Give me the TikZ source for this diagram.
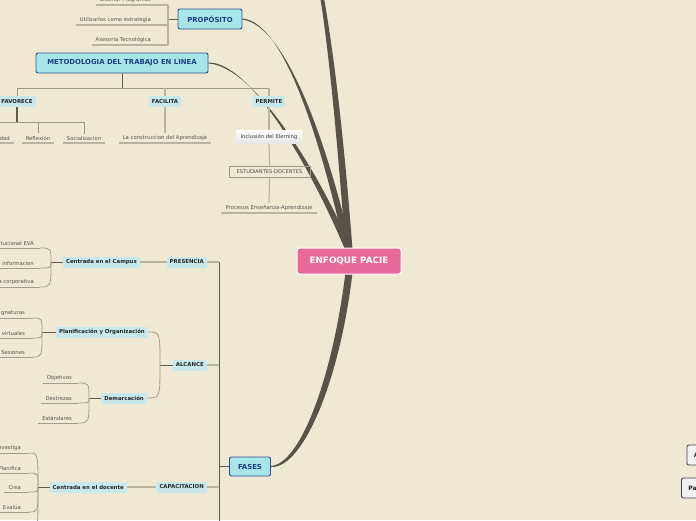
\documentclass[tikz,border=0pt]{standalone}
\usepackage{fontspec}
\setmainfont{DejaVu Sans}
\usetikzlibrary{calc}
\definecolor{bgc}{HTML}{EFE8D3}
\definecolor{dk}{HTML}{575347}
\definecolor{dline}{HTML}{5E5A50}
\definecolor{tan}{HTML}{BAB3A1}
\definecolor{mid}{HTML}{9C9686}
\definecolor{cv}{HTML}{A39D8E}
\definecolor{itxt}{HTML}{55524C}
\definecolor{labfill}{HTML}{C8E9EB}
\definecolor{mainfill}{HTML}{A8E5E8}
\definecolor{mainbd}{HTML}{2D4F91}
\definecolor{maintxt}{HTML}{1F3E86}
\definecolor{pink}{HTML}{E8699A}
\pgfdeclarelayer{bglayer}
\pgfdeclarelayer{lines}
\pgfsetlayers{bglayer,lines,main}
\tikzset{
  rootbox/.style={fill=pink, draw=white, line width=1pt, rounded corners=2.5pt, text=white,
    font=\fontsize{8.8}{10}\selectfont\bfseries, minimum width=104pt, minimum height=26pt, inner sep=0pt},
  mainbox/.style={fill=mainfill, draw=mainbd, line width=0.9pt, rounded corners=2pt, text=maintxt,
    font=\fontsize{6.9}{8}\selectfont\bfseries, minimum height=20pt, inner sep=0pt},
  lab/.style={fill=labfill, text=black!85, font=\fontsize{5.4}{6}\selectfont\bfseries,
    inner xsep=3pt, inner ysep=0pt, minimum height=11pt},
  item/.style={text=itxt, font=\fontsize{5.3}{6}\selectfont, inner xsep=4pt, inner ysep=2.4pt},
  ul/.style={draw=tan, line width=1.3pt},
  tanl/.style={draw=tan, line width=1.2pt},
  midl/.style={draw=mid, line width=0.9pt},
  dl/.style={draw=dline, line width=0.8pt},
  cvl/.style={draw=cv, line width=0.8pt},
  pbox/.style={fill=black!5, draw=black!75, line width=0.8pt, rounded corners=2pt,
    font=\fontsize{6}{7}\selectfont\bfseries, text=black!85, inner xsep=7pt, inner ysep=0pt,
    minimum height=20pt, text width=24pt, align=left}
}
\begin{document}
\begin{tikzpicture}[x=1pt,y=-1pt]
\useasboundingbox (0,0) rectangle (696,520);
\begin{pgfonlayer}{bglayer}
\fill[bgc] (0,0) rectangle (696,520);
\end{pgfonlayer}
\clip (0,0) rectangle (696,520);

% main nodes
\node[rootbox] (root) at (349,261) {ENFOQUE PACIE};
\node[mainbox, minimum width=64pt] (prop) at (210,19) {PROPÓSITO};
\node[mainbox, minimum width=172pt] (met) at (122,63) {METODOLOGIA DEL TRABAJO EN LINEA};
\node[mainbox, minimum width=41pt, minimum height=19pt] (fases) at (250,466.5) {FASES};

% PROPOSITO items
\node[item, anchor=south east] (dis) at (155,5) {Diseñar Programas};
\node[item, anchor=south east] (uti) at (155,25) {Utilizarlos como estrategia};
\node[item, anchor=south east] (ase) at (155,45) {Asesoría Tecnológica};
\coordinate (pb1) at (168,5);
\coordinate (pb2) at (168,25);
\coordinate (pb3) at (168,45);
\coordinate (pbm) at (168,19);

% METODOLOGIA labels
\node[lab] (fav) at (17,101.5) {FAVORECE};
\node[lab] (fac) at (165,101.5) {FACILITA};
\node[lab] (perm) at (269,101.5) {PERMITE};
\coordinate (hy) at (122,88);

\node[item, anchor=south east] (dad) at (14,143) {dad};
\node[item, anchor=south] (refl) at (38,143) {Reflexión};
\node[item, anchor=south] (soc) at (84,143) {Socializacion};
\node[item, anchor=south] (cons) at (165,143) {La construccion del Aprendizaje};
\coordinate (fy) at (17,122);
\coordinate (fleft) at (-5,122);

\node[top color=white, bottom color=black!10, text=black!75, font=\fontsize{5.3}{6}\selectfont,
  minimum width=66pt, minimum height=13pt, inner sep=0pt] (incl) at (269,136.5) {Inclusión del Elerning};
\node[draw=mid, line width=0.6pt, text=black!70, font=\fontsize{5.1}{6}\selectfont,
  minimum width=81pt, minimum height=11pt, inner sep=0pt] (est) at (269.5,171.5) {ESTUDIANTES-DOCENTES};
\node[item, anchor=south] (proc) at (269,213) {Procesos Enseñanza-Aprendizaje};

% FASES branch labels
\node[lab, anchor=east] (pres) at (207,262) {PRESENCIA};
\node[lab, anchor=east] (alc) at (207,365) {ALCANCE};
\node[lab, anchor=east] (cap) at (207,487) {CAPACITACION};
\node[lab, anchor=east] (campus) at (140,262) {Centrada en el Campus};
\node[lab, anchor=east] (plan) at (148,332) {Planificación y Organización};
\node[lab, anchor=east] (dem) at (147,398) {Demarcación};
\node[lab, anchor=east] (doc) at (127,487) {Centrada en el docente};
\coordinate (vx1) at (219,262);
\coordinate (vx2) at (219,365);
\coordinate (vx3) at (219,487);
\coordinate (vxf) at (219,466.5);
\coordinate (vxe) at (219,525);

% Campus items
\coordinate (cP) at (51,262);
\coordinate (cE1) at (40,248);
\coordinate (cE2) at (40,268);
\coordinate (cE3) at (40,287);
\node[item, anchor=south east] (c1) at (38,248) {tucional EVA};
\node[item, anchor=south east] (c2) at (38,268) {informacion};
\node[item, anchor=south east] (c3) at (38,287) {a corporativa};

% Planificacion items
\coordinate (pP) at (42,332);
\coordinate (pE1) at (33,318);
\coordinate (pE2) at (33,338);
\coordinate (pE3) at (33,357);
\node[item, anchor=south east] (p1) at (29,318) {gnaturas};
\node[item, anchor=south east] (p2) at (29,338) {virtuales};
\node[item, anchor=south east] (p3) at (29,357) {Sesiones};

% Alcance bracket
\coordinate (aP) at (160,365);

% Demarcacion items
\coordinate (dP) at (89,398);
\coordinate (dE1) at (78,383);
\coordinate (dE2) at (78,403);
\coordinate (dE3) at (78,423);
\node[item, anchor=south east] (d1) at (76,383) {Objetivos};
\node[item, anchor=south east] (d2) at (76,403) {Destrezas};
\node[item, anchor=south east] (d3) at (76,423) {Estándares};

% Docente items
\coordinate (oP) at (38,487);
\coordinate (oE1) at (29,453);
\coordinate (oE2) at (29,473);
\coordinate (oE3) at (29,492);
\coordinate (oE4) at (29,512);
\coordinate (oE5) at (29,533);
\node[item, anchor=south east] (o1) at (25,453) {nvestiga};
\node[item, anchor=south east] (o2) at (25,473) {Planifica};
\node[item, anchor=south east] (o3) at (25,492) {Crea};
\node[item, anchor=south east] (o4) at (25,512) {Evalúa};

% right partial boxes
\node[pbox, anchor=west] (rb1) at (686.5,455) {A};
\node[pbox, anchor=west] (rb2) at (681,488) {Pa};

\coordinate (topend) at (322,-3);

\begin{pgfonlayer}{lines}
% thick tapered connectors
\fill[dk] ($(root.north)+(-3.5,2)$) .. controls (338,150) and (330,60) .. ($(topend)+(-1.8,0)$)
  -- ($(topend)+(1.8,0)$) .. controls (335,60) and (345,150) .. ($(root.north)+(3.5,2)$) -- cycle;
\fill[dk] ($(prop.east)+(0,-0.5)$) .. controls (289,22) and (327,170) .. ($(root.north)+(-4,2)$)
  -- ($(root.north)+(2.5,2)$) .. controls (334,170) and (291,26) .. ($(prop.east)+(0,0.5)$) -- cycle;
\fill[dk] ($(met.east)+(0,-0.5)$) .. controls (254,62) and (317,182) .. ($(root.north)+(-4,2)$)
  -- ($(root.north)+(2.5,2)$) .. controls (324,182) and (256,66) .. ($(met.east)+(0,0.5)$) -- cycle;
\fill[dk] ($(root.south)+(-3.5,-2)$) .. controls (332,380) and (300,464) .. ($(fases.east)+(0,-0.5)$)
  -- ($(fases.east)+(0,0.5)$) .. controls (303,469) and (340,380) .. ($(root.south)+(3.5,-2)$) -- cycle;

% PROPOSITO bracket
\draw[dl] (prop.west) -- (pbm);
\draw[tanl] (pb1) -- (pb3);
\draw[ul] (dis.south west) -- (pb1);
\draw[ul] (uti.south west) -- (pb2);
\draw[ul] (ase.south west) -- (pb3);

% METODOLOGIA tree
\draw[dl] (met.south) -- (hy);
\draw[midl] (fav.north |- hy) -- (perm.north |- hy);
\draw[midl] (fav.north |- hy) -- (fav.north);
\draw[tanl] (fac.north |- hy) -- (fac.north);
\draw[tanl] (perm.north |- hy) -- (perm.north);
\draw[draw=dline, line width=1.4pt] (fav.south) -- (fy);
\draw[midl] (fleft) -- (soc.north |- fy);
\draw[midl] (refl.north |- fy) -- (refl.north);
\draw[midl] (soc.north |- fy) -- (soc.north);
\draw[ul] (dad.south west) -- (dad.south east);
\draw[ul] (refl.south west) -- (refl.south east);
\draw[ul] (soc.south west) -- (soc.south east);
\draw[tanl] (fac.south) -- (cons.north);
\draw[ul] (cons.south west) -- (cons.south east);
\draw[tanl] (perm.south) -- (incl.north);
\draw[tanl] (incl.south) -- (est.north);
\draw[tanl] (est.south) -- (proc.north);
\draw[ul] (proc.south west) -- (proc.south east);

% FASES tree
\draw[dl] (fases.west) -- (vxf);
\draw[dl] (vx1) -- (vxe);
\draw[tanl] (pres.east) -- (vx1);
\draw[tanl] (alc.east) -- (vx2);
\draw[tanl] (cap.east) -- (vx3);
\draw[tanl] (pres.west) -- (campus.east);
\draw[tanl] (cap.west) -- (doc.east);

% Campus bracket
\draw[dl] (campus.west) -- (cP);
\draw[cvl] (cP) .. controls (cP |- cE1) .. (cE1);
\draw[cvl] (cP) .. controls (cP |- cE2) .. (cE2);
\draw[cvl] (cP) .. controls (cP |- cE3) .. (cE3);
\draw[cvl] (c1.south west) -- (cE1);
\draw[cvl] (c2.south west) -- (cE2);
\draw[cvl] (c3.south west) -- (cE3);

% Alcance bracket
\draw[dl] (alc.west) -- (aP);
\draw[cvl] (aP) .. controls (aP |- plan.east) .. (plan.east);
\draw[cvl] (aP) .. controls (aP |- dem.east) .. (dem.east);

% Planificacion bracket
\draw[dl] (plan.west) -- (pP);
\draw[cvl] (pP) .. controls (pP |- pE1) .. (pE1);
\draw[cvl] (pP) .. controls (pP |- pE2) .. (pE2);
\draw[cvl] (pP) .. controls (pP |- pE3) .. (pE3);
\draw[cvl] (p1.south west) -- (pE1);
\draw[cvl] (p2.south west) -- (pE2);
\draw[cvl] (p3.south west) -- (pE3);

% Demarcacion bracket
\draw[dl] (dem.west) -- (dP);
\draw[cvl] (dP) .. controls (dP |- dE1) .. (dE1);
\draw[cvl] (dP) .. controls (dP |- dE2) .. (dE2);
\draw[cvl] (dP) .. controls (dP |- dE3) .. (dE3);
\draw[cvl] (d1.south west) -- (dE1);
\draw[cvl] (d2.south west) -- (dE2);
\draw[cvl] (d3.south west) -- (dE3);

% Docente bracket
\draw[dl] (doc.west) -- (oP);
\draw[cvl] (oP) .. controls (oP |- oE1) .. (oE1);
\draw[cvl] (oP) .. controls (oP |- oE2) .. (oE2);
\draw[cvl] (oP) .. controls (oP |- oE3) .. (oE3);
\draw[cvl] (oP) .. controls (oP |- oE4) .. (oE4);
\draw[cvl] (oP) .. controls (oP |- oE5) .. (oE5);
\draw[cvl] (o1.south west) -- (oE1);
\draw[cvl] (o2.south west) -- (oE2);
\draw[cvl] (o3.south west) -- (oE3);
\draw[cvl] (o4.south west) -- (oE4);
\end{pgfonlayer}
\end{tikzpicture}
\end{document}
